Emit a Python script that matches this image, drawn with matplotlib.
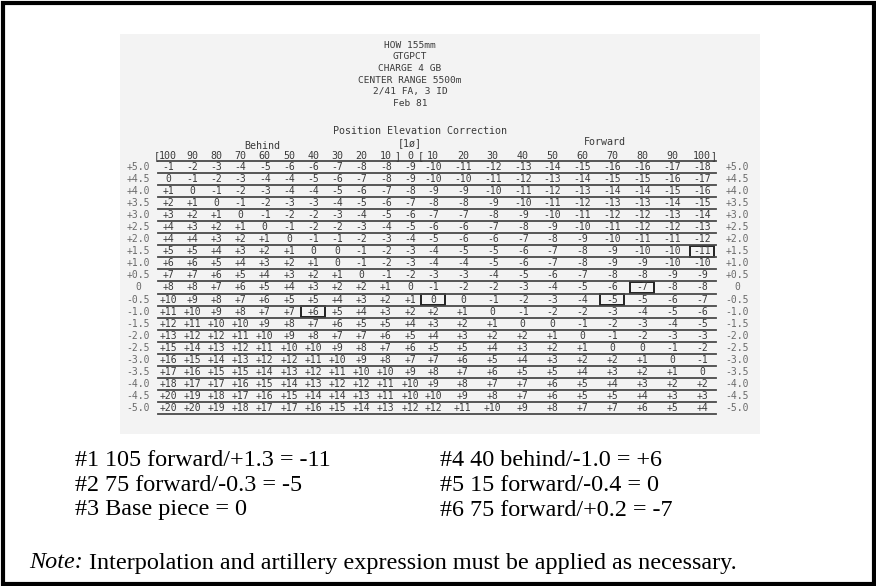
import matplotlib.pyplot as plt
from matplotlib.patches import Rectangle

# header block of the scanned table
title_lines = ["HOW 155mm", "GTGPCT", "CHARGE 4 GB", "CENTER RANGE 5500m",
               "2/41 FA, 3 ID", "Feb 81"]
table_title = "Position Elevation Correction"

behind = [100, 90, 80, 70, 60, 50, 40, 30, 20, 10]
forward = [10, 20, 30, 40, 50, 60, 70, 80, 90, 100]

elevations = ["+5.0", "+4.5", "+4.0", "+3.5", "+3.0", "+2.5", "+2.0", "+1.5",
              "+1.0", "+0.5", "0", "-0.5", "-1.0", "-1.5", "-2.0", "-2.5",
              "-3.0", "-3.5", "-4.0", "-4.5", "-5.0"]

# corrections: 10 behind columns, the base piece, 10 forward columns
corrections = [
    [-1, -2, -3, -4, -5, -6, -6, -7, -8, -8, -9, -10, -11, -12, -13, -14, -15, -16, -16, -17, -18],
    [0, -1, -2, -3, -4, -4, -5, -6, -7, -8, -9, -10, -10, -11, -12, -13, -14, -15, -15, -16, -17],
    [1, 0, -1, -2, -3, -4, -4, -5, -6, -7, -8, -9, -9, -10, -11, -12, -13, -14, -14, -15, -16],
    [2, 1, 0, -1, -2, -3, -3, -4, -5, -6, -7, -8, -8, -9, -10, -11, -12, -13, -13, -14, -15],
    [3, 2, 1, 0, -1, -2, -2, -3, -4, -5, -6, -7, -7, -8, -9, -10, -11, -12, -12, -13, -14],
    [4, 3, 2, 1, 0, -1, -2, -2, -3, -4, -5, -6, -6, -7, -8, -9, -10, -11, -12, -12, -13],
    [4, 4, 3, 2, 1, 0, -1, -1, -2, -3, -4, -5, -6, -6, -7, -8, -9, -10, -11, -11, -12],
    [5, 5, 4, 3, 2, 1, 0, 0, -1, -2, -3, -4, -5, -5, -6, -7, -8, -9, -10, -10, -11],
    [6, 6, 5, 4, 3, 2, 1, 0, -1, -2, -3, -4, -4, -5, -6, -7, -8, -9, -9, -10, -10],
    [7, 7, 6, 5, 4, 3, 2, 1, 0, -1, -2, -3, -3, -4, -5, -6, -7, -8, -8, -9, -9],
    [8, 8, 7, 6, 5, 4, 3, 2, 2, 1, 0, -1, -2, -2, -3, -4, -5, -6, -7, -8, -8],
    [10, 9, 8, 7, 6, 5, 5, 4, 3, 2, 1, 0, 0, -1, -2, -3, -4, -5, -5, -6, -7],
    [11, 10, 9, 8, 7, 7, 6, 5, 4, 3, 2, 2, 1, 0, -1, -2, -2, -3, -4, -5, -6],
    [12, 11, 10, 10, 9, 8, 7, 6, 5, 5, 4, 3, 2, 1, 0, 0, -1, -2, -3, -4, -5],
    [13, 12, 12, 11, 10, 9, 8, 7, 7, 6, 5, 4, 3, 2, 2, 1, 0, -1, -2, -3, -3],
    [15, 14, 13, 12, 11, 10, 10, 9, 8, 7, 6, 5, 5, 4, 3, 2, 1, 0, 0, -1, -2],
    [16, 15, 14, 13, 12, 12, 11, 10, 9, 8, 7, 7, 6, 5, 4, 3, 2, 2, 1, 0, -1],
    [17, 16, 15, 15, 14, 13, 12, 11, 10, 10, 9, 8, 7, 6, 5, 5, 4, 3, 2, 1, 0],
    [18, 17, 17, 16, 15, 14, 13, 12, 12, 11, 10, 9, 8, 7, 7, 6, 5, 4, 3, 2, 2],
    [20, 19, 18, 17, 16, 15, 14, 14, 13, 11, 10, 10, 9, 8, 7, 6, 5, 5, 4, 3, 3],
    [20, 20, 19, 18, 17, 17, 16, 15, 14, 13, 12, 12, 11, 10, 9, 8, 7, 7, 6, 5, 4],
]

# (elevation, column index) of the boxed answers
boxed = [("+1.5", 20), ("0", 18), ("-0.5", 11), ("-0.5", 17), ("-1.0", 6)]

notes_left = ["#1 105 forward/+1.3 = -11", "#2 75 forward/-0.3 = -5", "#3 Base piece = 0"]
notes_right = ["#4 40 behind/-1.0 = +6", "#5 15 forward/-0.4 = 0", "#6 75 forward/+0.2 = -7"]
footnote = "Interpolation and artillery expression must be applied as necessary."

W, H = 876, 586
fig = plt.figure(figsize=(W / 100, H / 100), dpi=100)
ax = fig.add_axes([0, 0, 1, 1])
ax.set_xlim(0, W)
ax.set_ylim(H, 0)
ax.axis("off")

mono = "DejaVu Sans Mono"
serif = "Liberation Serif"
ink = "#3a3a3a"
soft = "#6a6a6a"

# outer frame and the scanned page
ax.add_patch(Rectangle((2.5, 2.5), W - 5, H - 5, fill=False, lw=3, ec="black"))
ax.add_patch(Rectangle((120, 34), 640, 400, fc="#f3f3f3", ec="none"))

cx = 410
for i, line in enumerate(title_lines):
    ax.text(cx, 45 + i * 11.7, line, family=mono, fontsize=6.8, color=ink,
            ha="center", va="center")
ax.text(cx + 10, 131, table_title, family=mono, fontsize=7.2, color=ink,
        ha="center", va="center")
ax.text(262, 146, "Behind", family=mono, fontsize=7.2, color=ink, ha="center", va="center")
ax.text(cx, 143, "[1\u00f8]", family=mono, fontsize=7.2, color=ink, ha="center", va="center")
ax.text(605, 142, "Forward", family=mono, fontsize=7.2, color=ink, ha="center", va="center")

# column positions
col_x = [168 + 24.2 * i for i in range(len(behind))] + [cx] + \
        [433 + 29.9 * j for j in range(len(forward))]
headers = [str(v) for v in behind] + ["0"] + [str(v) for v in forward]

head_y = 156
for x, h in zip(col_x, headers):
    ax.text(x, head_y, h, family=mono, fontsize=7.2, color=ink, ha="center", va="center")
for bx, b in [(157, "["), (397, "]"), (421, "["), (713, "]")]:
    ax.text(bx, head_y, b, family=mono, fontsize=7.2, color=ink, ha="center", va="center")

row0, dy = 167, 12.05
line_l, line_r = 158, 716
ax.plot([line_l, line_r], [row0 - 6, row0 - 6], color="#4a4a4a", lw=1.3)


def fmt(v):
    return "0" if v == 0 else f"{v:+d}"


for r, (elev, vals) in enumerate(zip(elevations, corrections)):
    y = row0 + r * dy
    ax.text(138, y, elev, family=mono, fontsize=7, color=soft, ha="center", va="center")
    ax.text(737, y, elev, family=mono, fontsize=7, color=soft, ha="center", va="center")
    for x, v in zip(col_x, vals):
        ax.text(x, y, fmt(v), family=mono, fontsize=7, color=ink, ha="center", va="center")
    ax.plot([line_l, line_r], [y + 6, y + 6], color="#4a4a4a", lw=1.3)

for elev, c in boxed:
    y = row0 + elevations.index(elev) * dy
    ax.add_patch(Rectangle((col_x[c] - 12, y - 5.5), 24, 11, fill=False,
                           lw=1.4, ec="#222222"))

fs = 17.4
for i, t in enumerate(notes_left):
    ax.text(75, 461 + i * 24.5, t, family=serif, fontsize=fs, color="black",
            ha="left", va="center")
for i, t in enumerate(notes_right):
    ax.text(440, 461 + i * 24.5, t, family=serif, fontsize=fs, color="black",
            ha="left", va="center")

nt = ax.text(29, 563, "Note:", family=serif, style="italic", fontsize=fs,
             color="black", ha="left", va="center")
ax.annotate(" " + footnote, xy=(1, 0), xycoords=nt, family=serif, fontsize=fs,
            color="black", ha="left", va="bottom")

fig.savefig("out.png", dpi=100)
